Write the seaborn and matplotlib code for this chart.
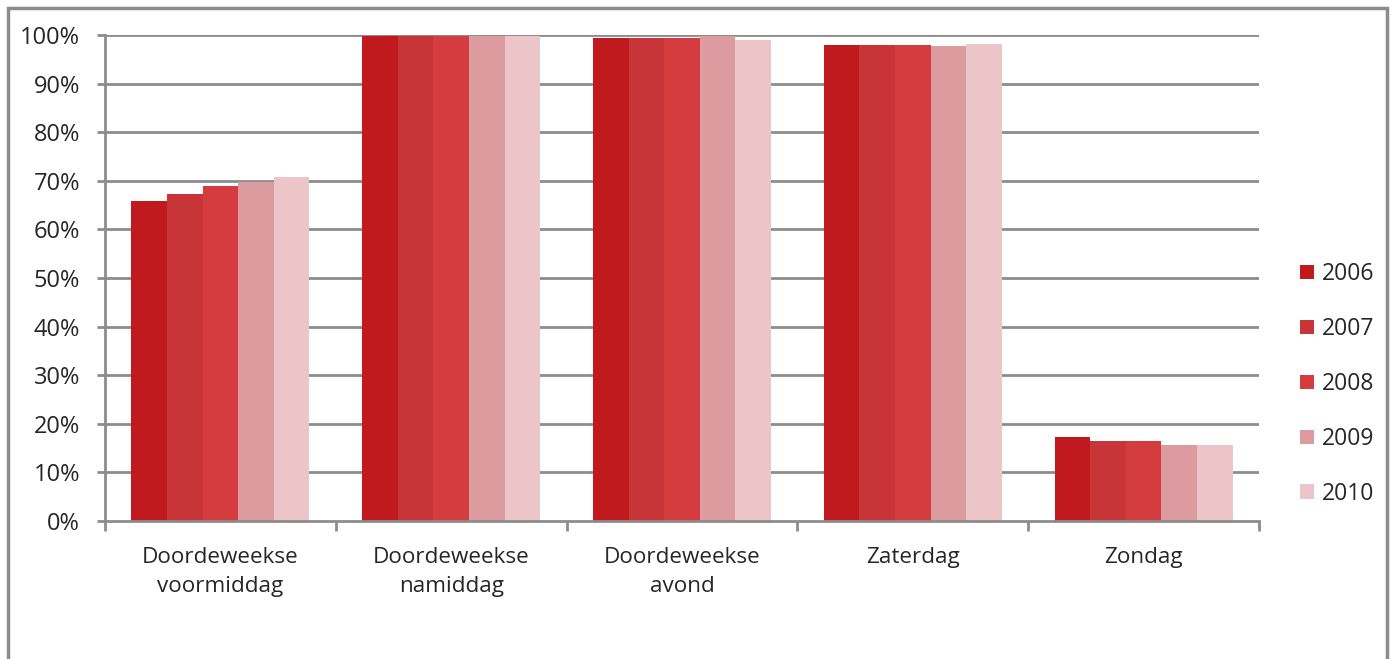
import numpy as np
import pandas as pd
import matplotlib
matplotlib.use('Agg')
import matplotlib.pyplot as plt
from matplotlib.patches import Rectangle
from matplotlib.ticker import PercentFormatter
import seaborn as sns

# data (percent)
categories = ['Doordeweekse\nvoormiddag', 'Doordeweekse\nnamiddag', 'Doordeweekse\navond', 'Zaterdag', 'Zondag']
years = ['2006', '2007', '2008', '2009', '2010']
v2006 = [65.8, 99.8, 99.3, 97.9, 17.2]
v2007 = [67.2, 99.8, 99.3, 97.9, 16.5]
v2008 = [68.9, 99.8, 99.3, 97.9, 16.5]
v2009 = [69.8, 99.8, 99.8, 97.7, 15.7]
v2010 = [70.7, 99.8, 99.0, 98.1, 15.7]
colors = ['#C0191E', '#C83538', '#D53C40', '#DC9C9F', '#EBC5C7']

series = [v2006, v2007, v2008, v2009, v2010]
rows = []
for y, vals in zip(years, series):
    for c, v in zip(categories, vals):
        rows.append({'cat': c, 'year': y, 'val': v})
df = pd.DataFrame(rows)

sns.set_style('white')
plt.rcParams['font.family'] = ['Open Sans', 'DejaVu Sans']

fig = plt.figure(figsize=(13.93, 6.59), dpi=100)
ax = fig.add_axes([0.0754, 0.2094, 0.8284, 0.7375])

sns.barplot(data=df, x='cat', y='val', hue='year', palette=colors,
            width=0.771, gap=0, saturation=1, ax=ax, legend=True,
            edgecolor='none')

ax.set_ylim(0, 100)
ax.set_xlim(-0.5, 4.5)
ax.set_yticks(np.arange(0, 101, 10))
ax.yaxis.set_major_formatter(PercentFormatter(decimals=0))
ax.set_xlabel('')
ax.set_ylabel('')
for yv in np.arange(10, 101, 10):
    ax.axhline(yv, color='#8c8c8c', lw=2, zorder=0)
ax.set_axisbelow(True)

for s in ['top', 'right']:
    ax.spines[s].set_visible(False)
for s in ['left', 'bottom']:
    ax.spines[s].set_color('#8c8c8c')
    ax.spines[s].set_linewidth(2)

ax.tick_params(axis='y', length=6, width=2, color='#8c8c8c', labelsize=17, pad=12, direction='out', left=True)
ax.set_xticks(np.arange(5))
ax.set_xticklabels(categories, fontsize=16.2, linespacing=1.5)
ax.tick_params(axis='x', length=0, pad=19)
# group boundary ticks
ax.set_xticks(np.arange(-0.5, 5, 1), minor=True)
ax.tick_params(axis='x', which='minor', length=7, width=2, color='#8c8c8c', bottom=True, direction='out')

leg = ax.legend(loc='center left', bbox_to_anchor=(1.0175, 0.282), frameon=False,
                fontsize=16.5, labelspacing=1.35, handlelength=0.6, handleheight=0.6,
                handletextpad=0.35)

# outer chart border
fig.patches.append(Rectangle((0.0057, -0.05), 0.99, 1.038, transform=fig.transFigure,
                             fill=False, edgecolor='#8c8c8c', lw=2.5))

fig.savefig('out.png', dpi=100)
